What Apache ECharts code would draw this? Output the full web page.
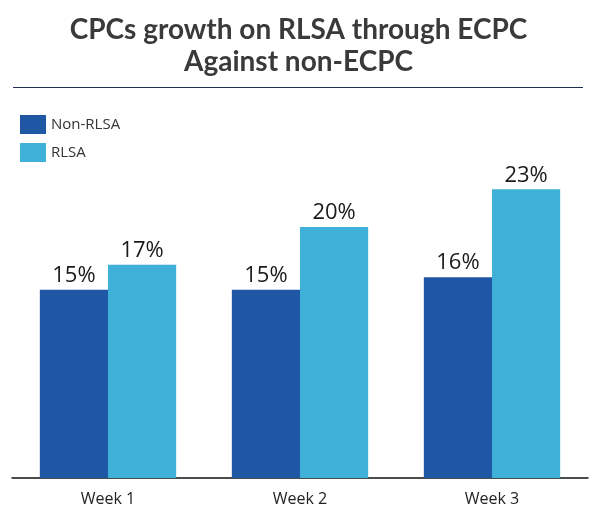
<!DOCTYPE html>
<html>
<head>
<meta charset="utf-8">
<script src="https://cdn.jsdelivr.net/npm/echarts@6/dist/echarts.min.js"></script>
<style>
  html, body { margin: 0; padding: 0; background: #fff; }
  #main { width: 597px; height: 523px; }
</style>
</head>
<body>
<div id="main"></div>
<script>
// chart data
var weeks = ['Week 1', 'Week 2', 'Week 3'];
var nonRlsa = [15, 15, 16]; // Non-RLSA
var rlsa = [17, 20, 23];    // RLSA

var chart = echarts.init(document.getElementById('main'));

var labelStyle = {
    show: true,
    position: 'top',
    distance: 3,
    formatter: '{c}%',
    fontFamily: 'Open Sans',
    fontSize: 22,
    color: '#1a1a1a'
};

chart.setOption({
    backgroundColor: '#ffffff',
    animation: false,
    title: {
        text: 'CPCs growth on RLSA through ECPC\nAgainst non-ECPC',
        left: 'center',
        top: 9,
        textStyle: {
            fontFamily: 'Lato',
            fontWeight: 'bold',
            fontSize: 28,
            lineHeight: 32,
            color: '#3a3a3a'
        }
    },
    graphic: [{
        type: 'line',
        shape: { x1: 13, y1: 87.5, x2: 583, y2: 87.5 },
        style: { stroke: '#1e3050', lineWidth: 1 }
    }],
    legend: {
        orient: 'vertical',
        left: 15,
        top: 110,
        itemWidth: 26,
        itemHeight: 19,
        itemGap: 9,
        icon: 'rect',
        data: ['Non-RLSA', 'RLSA'],
        textStyle: {
            fontFamily: 'Open Sans',
            fontSize: 15,
            color: '#333'
        }
    },
    grid: {
        left: 12,
        right: 9,
        top: 101.5,
        bottom: 45
    },
    xAxis: {
        type: 'category',
        data: weeks,
        axisLine: { lineStyle: { color: '#111', width: 1.5 } },
        axisTick: { show: false },
        axisLabel: {
            margin: 13,
            fontFamily: 'Open Sans',
            fontSize: 16,
            color: '#222'
        }
    },
    yAxis: {
        type: 'value',
        min: 0,
        max: 30,
        show: false,
        splitLine: { show: false }
    },
    series: [{
        name: 'Non-RLSA',
        type: 'bar',
        data: nonRlsa,
        barGap: '0%',
        barCategoryGap: '29%',
        itemStyle: { color: '#1f57a5' },
        label: labelStyle
    }, {
        name: 'RLSA',
        type: 'bar',
        data: rlsa,
        itemStyle: { color: '#3fb0d8' },
        label: labelStyle
    }]
});
</script>
</body>
</html>
